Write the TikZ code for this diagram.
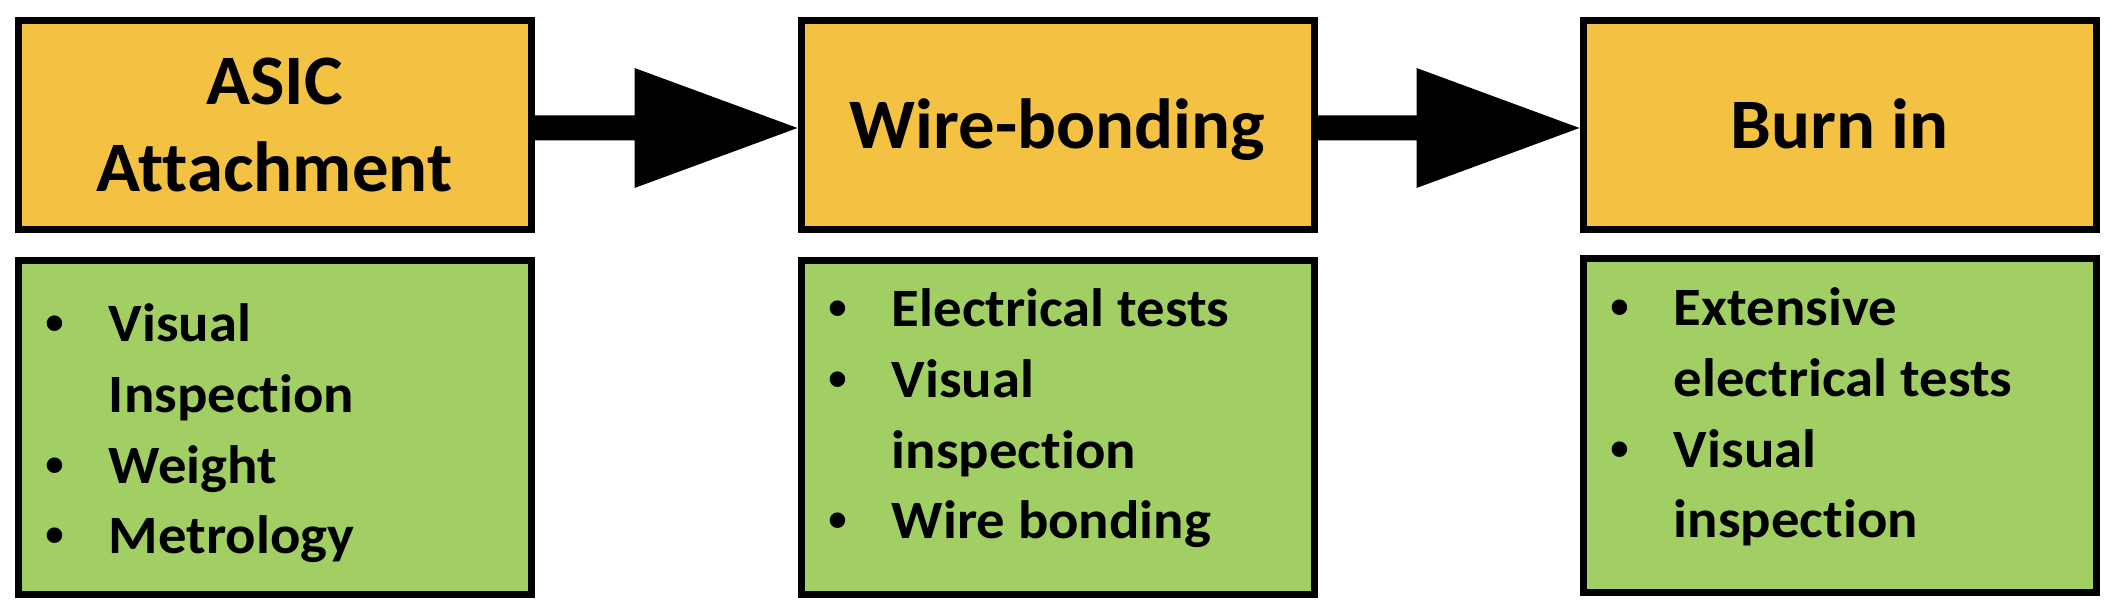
\documentclass[tikz,border=0pt]{standalone}
\usepackage{fontspec}
\setmainfont{Carlito}[Ligatures=NoCommon,FakeStretch=1.05]
\newfontfamily\titlefont{Carlito}[Ligatures=NoCommon,FakeStretch=1.025]
\newfontfamily\bulletfont{Liberation Sans}
\usetikzlibrary{calc}
\definecolor{boxorange}{HTML}{F4C243}
\definecolor{boxgreen}{HTML}{A1CF63}
\newcommand\itembul{\makebox[0pt]{\bulletfont\bfseries •}}
\newcommand\flowarrow[2]{%
  \fill[flowfill] ($(#1.east)+(0,-9.5)$) -- ($(#2.west)+(-163,-9.5)$)
    -- ($(#2.west)+(-163,-57)$) -- ($(#2.west)+(0,3)$)
    -- ($(#2.west)+(-163,63)$) -- ($(#2.west)+(-163,15.5)$)
    -- ($(#1.east)+(0,15.5)$) -- cycle;}
\begin{document}
\begin{tikzpicture}[x=0.5pt,y=-0.5pt,
  stagebox/.style={draw=black,line width=3.5pt,fill=boxorange,
    minimum width=256.5pt,minimum height=104.5pt,inner sep=0pt,
    font=\titlefont\fontsize{35.5}{43.5}\selectfont\bfseries,align=center},
  checkbox/.style={draw=black,line width=3.5pt,fill=boxgreen,
    minimum width=256.5pt,minimum height=167pt,inner sep=0pt},
  checklist/.style={anchor=base west,inner sep=0pt,
    font=\fontsize{27}{35.3}\selectfont\bfseries},
  single/.style={text height=24pt,text depth=0pt},
  flowfill/.style={fill=black}]
\useasboundingbox (0,0) rectangle (2120,608);
\node[stagebox] (o1) at (274.5,125) {ASIC\\Attachment};
\node[stagebox,single] (o2) at (1057.5,125) {Wire-bonding};
\node[stagebox,single] (o3) at (1839.5,125) {Burn in};
\node[checkbox] (g1) at (274.5,427.5) {};
\node[checkbox] (g2) at (1057.5,427.5) {};
\node[checkbox] (g3) at (1839.5,425.5) {};
\node[checklist] (l1) at ($(g1.north west)+(40,85)$) {\begin{tabular}[t]{@{}l@{\hspace{27pt}}l@{}}\itembul & Visual\\ & Inspection\\ \itembul & Weight\\ \itembul & Metrology\end{tabular}};
\node[checklist] (l2) at ($(g2.north west)+(40,70)$) {\begin{tabular}[t]{@{}l@{\hspace{27pt}}l@{}}\itembul & Electrical tests\\ \itembul & Visual\\ & inspection\\ \itembul & Wire bonding\end{tabular}};
\node[checklist] (l3) at ($(g3.north west)+(40,71)$) {\begin{tabular}[t]{@{}l@{\hspace{27pt}}l@{}}\itembul & Extensive\\ & electrical tests\\ \itembul & Visual\\ & inspection\end{tabular}};
\flowarrow{o1}{o2}
\flowarrow{o2}{o3}
\end{tikzpicture}
\end{document}
